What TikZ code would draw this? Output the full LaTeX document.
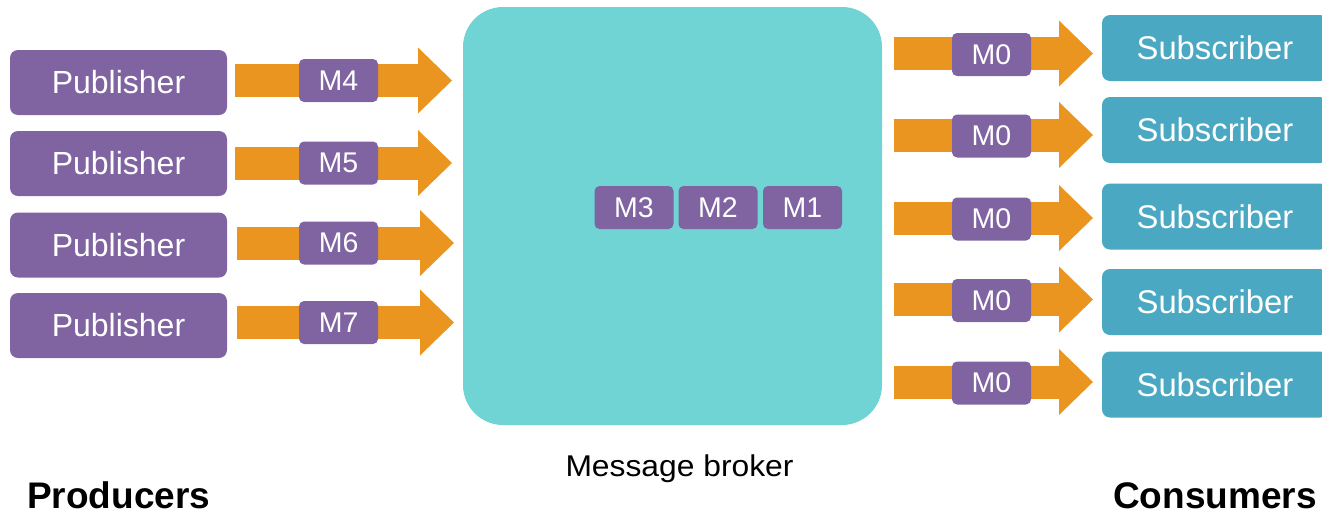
\documentclass[tikz,border=0pt]{standalone}
\usepackage{fontspec}
\setmainfont{Liberation Sans}
\newfontfamily\widesans[FakeStretch=1.06]{Liberation Sans}
\usetikzlibrary{arrows.meta}
\definecolor{msgpurple}{HTML}{8064A2}
\definecolor{flowcol}{HTML}{E9951F}
\definecolor{brokercol}{HTML}{70D4D4}
\definecolor{subcol}{HTML}{4AA8C2}

\begin{document}
\begin{tikzpicture}[x=1pt,y=-1pt,
  pubbox/.style={fill=msgpurple, rounded corners=8pt, minimum width=217pt,
    minimum height=65pt, inner sep=0pt, text=white, font=\fontsize{32}{36}\selectfont},
  subbox/.style={fill=subcol, rounded corners=8pt, minimum width=226pt,
    minimum height=66pt, inner sep=0pt, text=white, font=\fontsize{32.8}{36}\selectfont},
  msg/.style={fill=msgpurple, rounded corners=5pt, minimum width=79pt,
    minimum height=43pt, inner sep=0pt, text=white, font=\fontsize{28.5}{32}\selectfont},
  flowarrow/.style={draw=flowcol, line width=33pt,
    -{Triangle[width=66pt,length=34pt,line width=0pt]}},
  caption/.style={inner sep=0pt, text=black},
]
\useasboundingbox (0,0) rectangle (1322,512);
\clip (0,0) rectangle (1322,512);

% broker with its queued messages
\node[fill=brokercol, rounded corners=40pt, minimum width=419pt, minimum height=418pt,
  inner sep=0pt] (broker) at (672.5,216) {};
\node[msg] (m3) at (634,207.5) {M3};
\node[msg] (m2) at (718,207.5) {M2};
\node[msg] (m1) at (802.5,207.5) {M1};

% producers
\node[pubbox] (p1) at (118.5,82.5) {Publisher};
\node[pubbox] (p2) at (118.5,163.5) {Publisher};
\node[pubbox] (p3) at (118.5,245) {Publisher};
\node[pubbox] (p4) at (118.5,325.5) {Publisher};

\coordinate (a1s) at (235,80.5);   \coordinate (a1e) at (452,80.5);
\coordinate (a2s) at (235,163);    \coordinate (a2e) at (452,163);
\coordinate (a3s) at (237,243);    \coordinate (a3e) at (454,243);
\coordinate (a4s) at (237,322.5);  \coordinate (a4e) at (454,322.5);

\draw[flowarrow] (a1s) -- (a1e) node[msg, pos=0.477] (m4) {M4};
\draw[flowarrow] (a2s) -- (a2e) node[msg, pos=0.477] (m5) {M5};
\draw[flowarrow] (a3s) -- (a3e) node[msg, pos=0.468] (m6) {M6};
\draw[flowarrow] (a4s) -- (a4e) node[msg, pos=0.468] (m7) {M7};

% consumers
\node[subbox] (s1) at (1215,48) {Subscriber};
\node[subbox] (s2) at (1215,130) {Subscriber};
\node[subbox] (s3) at (1215,216.5) {Subscriber};
\node[subbox] (s4) at (1215,302) {Subscriber};
\node[subbox] (s5) at (1215,384.5) {Subscriber};

\foreach \i/\y in {1/53.5, 2/135, 3/218, 4/299.5, 5/382} {
  \coordinate (b\i s) at (894,\y);
  \coordinate (b\i e) at (1093,\y);
  \draw[flowarrow] (b\i s) -- (b\i e) node[msg, pos=0.49, yshift=-1pt] (o\i) {M0};
}

% captions
\node[caption, anchor=base, font=\widesans\fontsize{30}{36}\selectfont] (lbroker) at (679.5,476.5) {Message broker};
\node[caption, anchor=base west, font=\bfseries\fontsize{37}{42}\selectfont] (lprod) at (27,508) {Producers};
\node[caption, anchor=base east, font=\bfseries\fontsize{37}{42}\selectfont] (lcons) at (1317,508) {Consumers};
\end{tikzpicture}
\end{document}
